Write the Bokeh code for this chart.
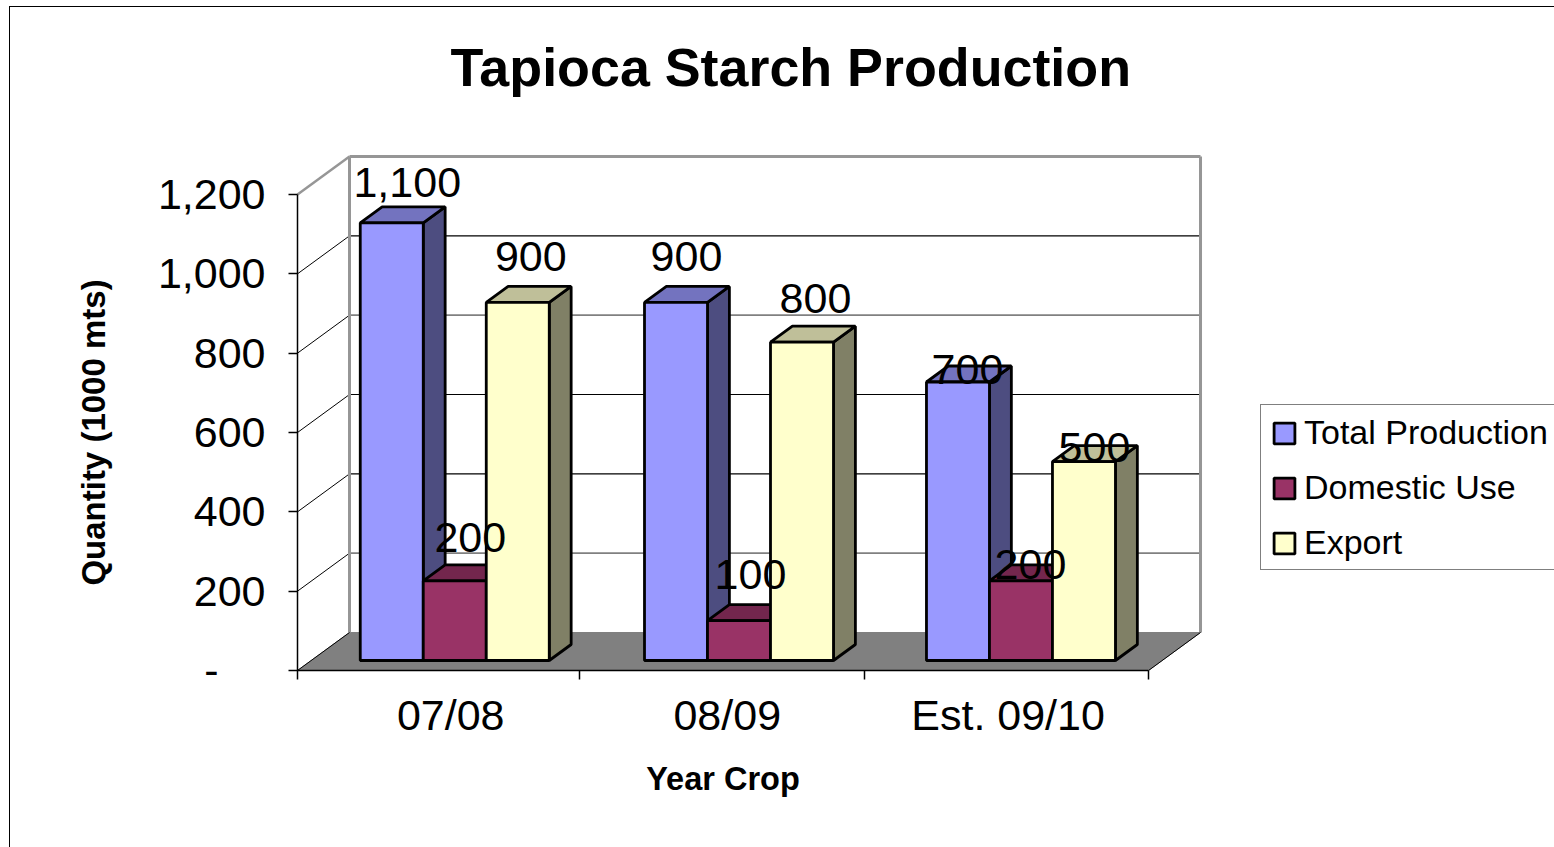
from bokeh.plotting import figure
from bokeh.embed import file_html
from bokeh.resources import INLINE
from bokeh.models import (Range1d, LinearAxis, FixedTicker, Legend, LegendItem,
                          NumeralTickFormatter)
from bokeh.core.properties import value

# ---- data ----
categories = ["07/08", "08/09", "Est. 09/10"]
series_names = ["Total Production", "Domestic Use", "Export"]
total_production = [1100, 900, 700]
domestic_use = [200, 100, 200]
export = [900, 800, 500]
series_values = [total_production, domestic_use, export]
y_ticks = [200, 400, 600, 800, 1000, 1200]
x_ticks = [0, 0.994, 2, 3]
data_label_texts = [["1,100", "900", "700"], ["200", "100", "200"], ["900", "800", "500"]]

# ---- styling ----
front_colors = ["#9999FF", "#993366", "#FFFFCC"]
top_colors = ["#7373BF", "#73264D", "#BFBF99"]
side_colors = ["#4D4D80", "#4D1A33", "#808066"]
FONT = "Liberation Sans"
W, H = 1554, 847
FRAME_TOP = 100
PX0, PY0 = 297, 670       # screen position of axis origin
PX_PER_CAT = 283.67
PX_PER_VAL = 476 / 1200
DEPTH_DX = 52 / PX_PER_CAT
DEPTH_DY = 38 / PX_PER_VAL
VAL_SCALE = 1.003         # bars are very slightly taller than the axis units

group_start = [0.173, 1.175, 2.169]
bar_w = 63 / PX_PER_CAT
depth_front = 10 / 38
depth_back = 26 / 38
label_dx = [[15.5, 10.5, 9.5], [15.5, 11.5, 9.5], [13, 13.5, 10.5]]
label_dy = [[-40, -46, -13], [-43, -46, -16], [-46, -44, -14]]


def P(x, v, depth):
    return x + depth * DEPTH_DX, v * VAL_SCALE + depth * DEPTH_DY


p = figure(width=W, height=H, output_backend="svg", toolbar_location=None,
           x_range=Range1d(-PX0 / PX_PER_CAT, (W - PX0) / PX_PER_CAT),
           y_range=Range1d((PY0 - H) / PX_PER_VAL, (PY0 - FRAME_TOP) / PX_PER_VAL),
           x_axis_type=None, y_axis_type=None, min_border=0, min_border_top=FRAME_TOP,
           outline_line_color=None, background_fill_color="white", border_fill_color="white")
p.styles = {"position": "absolute", "left": "0px", "top": "0px"}
# outer border of the chart: only its left and top sides show in the picture
p.stylesheets = [":host::after { content: ''; position: absolute; left: 9px; top: 5.5px; right: 0; "
                 "bottom: 0; border-left: 1.5px solid black; border-top: 1.5px solid black; "
                 "pointer-events: none; z-index: 20; }"]
p.xgrid.visible = False
p.ygrid.visible = False

p.title.text = "Tapioca Starch Production"
p.title.text_font = FONT
p.title.text_font_size = "53.8px"
p.title.text_font_style = "bold"
p.title.text_color = "black"
p.title.align = "left"
p.title.offset = 450
p.title.standoff = 8

# walls and floor
x_end = x_ticks[-1]
top_val = y_ticks[-1]
fx, fy = zip(P(0, 0, 0), P(0, 0, 1), P(x_end, 0, 1), P(x_end, 0, 0))
p.patch(list(fx), list(fy), fill_color="#808080", line_color="#808080")

for v in y_ticks:
    a, b, c = P(0, v / VAL_SCALE, 0), P(0, v / VAL_SCALE, 1), P(x_end, v / VAL_SCALE, 1)
    top = v == top_val
    soft = v in (200, 800)
    p.line([a[0], b[0]], [a[1], b[1]], line_color="#969696" if top else "black", line_width=2.5 if top else 1)
    p.line([b[0], c[0]], [b[1], c[1]], line_color="#969696" if top else "#808080" if soft else "black",
           line_width=3 if top else 1.8 if soft else 1.2)
for x in (0, x_end):
    a, b = P(x, 0, 1), P(x, top_val / VAL_SCALE, 1)
    p.line([a[0], b[0]], [a[1], b[1]], line_color="#969696", line_width=3)
a, b = P(x_end, 0, 0), P(x_end, 0, 1)
p.line([a[0], b[0]], [a[1], b[1]], line_color="black", line_width=1)
a, b = P(0, 0, 0), P(0, 0, 1)
p.line([a[0], b[0]], [a[1], b[1]], line_color="black", line_width=1)

# axes: the tick at zero and the category boundaries are drawn as minor ticks, which carry no label
yaxis = LinearAxis(ticker=FixedTicker(ticks=y_ticks, minor_ticks=[0]), fixed_location=0, bounds=(0, top_val),
                   formatter=NumeralTickFormatter(format="0,0"),
                   axis_label="Quantity (1000 mts)", axis_label_text_font=FONT,
                   axis_label_text_font_size="33px", axis_label_text_font_style="bold",
                   axis_label_text_color="black", axis_label_standoff=43,
                   major_label_text_font=FONT, major_label_text_font_size="43px",
                   major_label_text_color="black", major_label_standoff=23,
                   major_tick_in=0, major_tick_out=9, minor_tick_in=0, minor_tick_out=9,
                   axis_line_color="black", axis_line_width=1.5, major_tick_line_color="black",
                   major_tick_line_width=1.5, minor_tick_line_color="black", minor_tick_line_width=1.5)
p.add_layout(yaxis, "left")

label_pos = [0.54, 1.515, 2.505]
xaxis = LinearAxis(ticker=FixedTicker(ticks=label_pos, minor_ticks=x_ticks), fixed_location=0, bounds=(0, x_end),
                   major_label_overrides=dict(zip(label_pos, categories)),
                   major_label_text_font=FONT, major_label_text_font_size="43px",
                   major_label_text_color="black", major_label_standoff=11,
                   major_tick_in=0, major_tick_out=0, minor_tick_in=0, minor_tick_out=9,
                   axis_line_color="black", axis_line_width=1.5, major_tick_line_color=None,
                   minor_tick_line_color="black", minor_tick_line_width=1.5,
                   axis_label="Year Crop", axis_label_text_font=FONT,
                   axis_label_text_font_size="32.5px", axis_label_text_font_style="bold",
                   axis_label_text_color="black", axis_label_standoff=19)
p.add_layout(xaxis, "below")

# bars
legend_items = []
for i, vals in enumerate(series_values):
    n = len(vals)
    lefts = [group_start[g] + i * bar_w for g in range(n)]
    sx, sy, tx, ty = [], [], [], []
    for l, v in zip(lefts, vals):
        r = l + bar_w
        q = [P(r, v, depth_front), P(r, v, depth_back), P(r, 0, depth_back), P(r, 0, depth_front)]
        sx.append([c[0] for c in q])
        sy.append([c[1] for c in q])
        q = [P(l, v, depth_front), P(l, v, depth_back), P(r, v, depth_back), P(r, v, depth_front)]
        tx.append([c[0] for c in q])
        ty.append([c[1] for c in q])
    lw = 2.8
    p.patches(sx, sy, fill_color=side_colors[i], line_color="black", line_width=lw)
    p.patches(tx, ty, fill_color=top_colors[i], line_color="black", line_width=lw)
    centers = [P(l + bar_w / 2, 0, depth_front)[0] for l in lefts]
    bottoms = [P(0, 0, depth_front)[1]] * n
    tops = [P(0, v, depth_front)[1] for v in vals]
    r = p.vbar(x=centers, width=bar_w, bottom=bottoms, top=tops,
               fill_color=front_colors[i], line_color="black", line_width=lw)
    legend_items.append(LegendItem(label=series_names[i], renderers=[r]))

# data labels
for i, vals in enumerate(series_values):
    n = len(vals)
    xs = [P(group_start[g] + i * bar_w + bar_w / 2, 0, depth_front)[0] for g in range(n)]
    ys = [P(0, v, depth_front)[1] for v in vals]
    p.text(x=xs, y=ys, text=data_label_texts[i], x_offset=label_dx[i], y_offset=label_dy[i],
           text_font=value(FONT), text_font_size=value("43px"), text_color="black",
           text_align="center", text_baseline="middle")

# the dash for zero on the value axis
p.text(x=[0], y=[0], text=["-"], x_offset=[-86], y_offset=[0], text_font=value(FONT),
       text_font_size=value("43px"), text_color="black", text_align="center", text_baseline="middle")

legend = Legend(items=legend_items, location=(1260, H - 570), orientation="vertical",
                label_text_font=FONT, label_text_font_size="34px", label_text_color="black",
                label_standoff=7, label_height=34, label_width=270, glyph_width=26, glyph_height=26,
                spacing=16, padding=dict(left=10, right=10, top=8, bottom=7), margin=0,
                border_line_color="black", border_line_width=1,
                background_fill_color="white", background_fill_alpha=1)
p.add_layout(legend, "center")

open("out.html", "w").write(file_html(p, INLINE))
